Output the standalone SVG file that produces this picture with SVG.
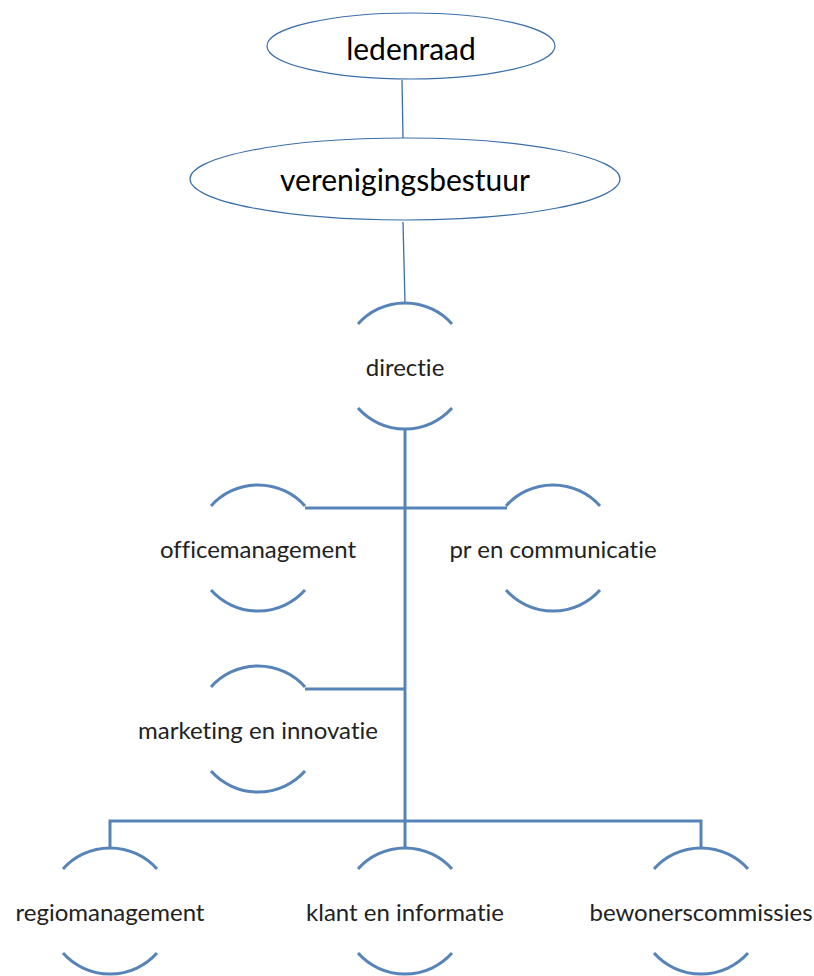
<svg xmlns="http://www.w3.org/2000/svg" width="814" height="976" viewBox="0 0 814 976">
<style>
.ell{fill:#fff;stroke:#3a6fa8;stroke-width:1.2}
.thin{fill:none;stroke:#3a6fa8;stroke-width:1.3}
.arc{fill:none;stroke:#5683b8;stroke-width:3}
.con{fill:none;stroke:#5683b8;stroke-width:3}
.big{font-family:Lato,"Liberation Sans",sans-serif;font-size:30px;fill:#000;text-anchor:middle;dominant-baseline:central;font-variant-ligatures:none}
.lbl{font-family:Lato,"Liberation Sans",sans-serif;font-size:24px;fill:#222;text-anchor:middle;dominant-baseline:central;font-variant-ligatures:none}
</style>
<defs>
<path id="hc" class="arc" d="M-47,-42 A63,63 0 0 1 47,-42 M-47,42 A63,63 0 0 0 47,42"/>
</defs>
<g id="connectors">
<line class="thin" x1="402" y1="80" x2="403" y2="138"/>
<line class="thin" x1="403" y1="222" x2="405" y2="303"/>
<line class="con" x1="405" y1="429" x2="405" y2="848"/>
<polyline class="con" points="305,508 507,508"/>
<polyline class="con" points="305,689 405,689"/>
<polyline class="con" points="110,848 110,821 701,821 701,848"/>
</g>
<g id="ledenraad">
<ellipse class="ell" cx="411" cy="46" rx="144" ry="33"/>
<text class="big" x="411" y="48">ledenraad</text>
</g>
<g id="verenigingsbestuur">
<ellipse class="ell" cx="405" cy="179" rx="215" ry="41"/>
<text class="big" x="405" y="179">verenigingsbestuur</text>
</g>
<g id="directie">
<use href="#hc" x="405" y="366"/>
<text class="lbl" x="405" y="366">directie</text>
</g>
<g id="officemanagement">
<use href="#hc" x="258" y="548"/>
<text class="lbl" x="258" y="548">officemanagement</text>
</g>
<g id="pr-en-communicatie">
<use href="#hc" x="553" y="548"/>
<text class="lbl" x="553" y="548">pr en communicatie</text>
</g>
<g id="marketing-en-innovatie">
<use href="#hc" x="258" y="729"/>
<text class="lbl" x="258" y="729">marketing en innovatie</text>
</g>
<g id="regiomanagement">
<use href="#hc" x="110" y="911"/>
<text class="lbl" x="110" y="911">regiomanagement</text>
</g>
<g id="klant-en-informatie">
<use href="#hc" x="405" y="911"/>
<text class="lbl" x="405" y="911">klant en informatie</text>
</g>
<g id="bewonerscommissies">
<use href="#hc" x="701" y="911"/>
<text class="lbl" x="701" y="911">bewonerscommissies</text>
</g>
</svg>
